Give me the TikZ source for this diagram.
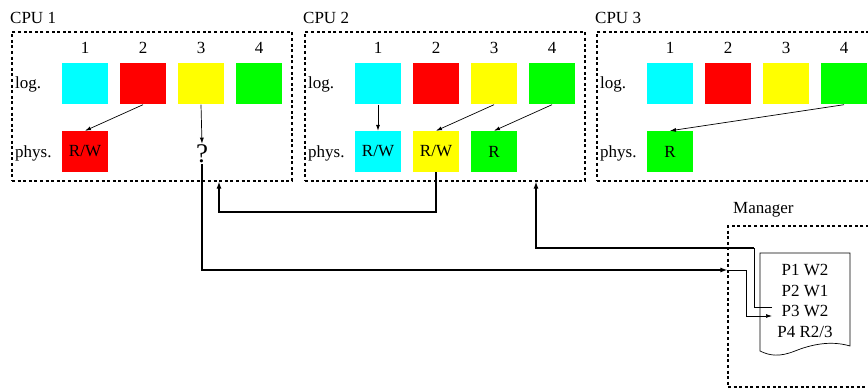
\documentclass[tikz,border=0pt]{standalone}
\usepackage{fontspec}
\setmainfont{Liberation Serif}
\usetikzlibrary{arrows.meta}
\definecolor{pcyan}{RGB}{0,255,255}
\definecolor{pred}{RGB}{255,0,0}
\definecolor{pyellow}{RGB}{255,255,0}
\definecolor{pgreen}{RGB}{0,255,0}
\begin{document}
\begin{tikzpicture}[x=1pt,y=-1pt,
  every node/.style={font=\fontsize{17}{20.5}\selectfont},
  cell/.style={minimum width=46pt,minimum height=41pt,inner sep=0pt},
  frame/.style={draw,line width=1.3pt,dash pattern=on 3pt off 2.6pt,inner sep=0pt},
  link/.style={line width=0.7pt,-{Latex[length=6pt,width=4pt]}},
  wire/.style={line width=1.1pt},
  wirearrow/.style={wire,-{Latex[length=7pt,width=5pt]}}]
\useasboundingbox (0,0) rectangle (868,390);
\clip (0,0) rectangle (868,390);

% three CPU frames with their logical and physical pages
\foreach \c/\dx in {1/0,2/293,3/585} {
  \node[frame,minimum width=280pt,minimum height=149pt] (cpu\c) at (152+\dx,106.5) {};
  \node[anchor=west,inner sep=0pt] (cpu\c t) at (10+\dx,18) {CPU \c};
  \node[anchor=west,inner sep=0pt] (cpu\c log) at (15+\dx,84) {log.};
  \node[anchor=west,inner sep=0pt] (cpu\c phys) at (15+\dx,153) {phys.};
  \foreach \i/\col in {1/pcyan,2/pred,3/pyellow,4/pgreen} {
    \node[cell,fill=\col] (c\c l\i) at ({85+58*(\i-1)+\dx},84) {};
    \node (c\c n\i) at ({85+58*(\i-1)+\dx},48) {\i};
  }
}

% physical pages
\node[cell,fill=pred]    (c1p1) at (85,151.5)  {\raisebox{-3pt}{R/W}};
\node[inner sep=1pt,font=\fontsize{27}{27}\selectfont] (q) at (202,154) {?};
\node[cell,fill=pcyan]   (c2p1) at (378,151.5) {\raisebox{-3pt}{R/W}};
\node[cell,fill=pyellow] (c2p2) at (436,151.5) {\raisebox{-3pt}{R/W}};
\node[cell,fill=pgreen]  (c2p3) at (494,151.5) {\raisebox{-3pt}{R}};
\node[cell,fill=pgreen]  (c3p1) at (670,151.5) {\raisebox{-3pt}{R}};

% page mappings
\draw[link] (c1l2.south) -- (c1p1.north);
\draw[link] (c1l3.south) -- (q.north);
\draw[link] (c2l1.south) -- (c2p1.north);
\draw[link] (c2l3.south) -- (c2p2.north);
\draw[link] (c2l4.south) -- (c2p3.north);
\draw[link] (c3l4.south) -- (c3p1.north);

% manager with its page table
\node[frame,minimum width=200pt,minimum height=161pt] (mgr) at (828,306.5) {};
\node[anchor=west,inner sep=0pt] (mgrt) at (733,210) {Manager};
\draw[line width=0.7pt] (760,253) -- (850,253) -- (850,346)
  .. controls (830,340) and (810,345) .. (795,351)
  .. controls (780,357) and (770,356) .. (760,351) -- cycle;
\node[align=center,inner sep=0pt] (tab) at (805,301)
  {P1 W2\\P2 W1\\P3 W2\\P4 R2/3};

% transfers between CPUs and manager
\coordinate (k1) at (219,212);
\draw[wirearrow] (c2p2.south) |- (k1) -- (k1 |- cpu1.south);

\coordinate (m1) at (mgr.west |- 0,270);
\draw[wirearrow] (q.south) |- (m1);
\coordinate (p3in) at (772,316);
\draw[line width=0.7pt,-{Latex[length=6pt,width=4pt]}] (m1) -- (746,270) |- (p3in);

\coordinate (p3out) at (772,307);
\coordinate (k2) at (536,248);
\draw[line width=0.7pt] (p3out) -| (754,248);
\draw[wirearrow] (754,248) -- (k2) -- (k2 |- cpu2.south);
\end{tikzpicture}
\end{document}
